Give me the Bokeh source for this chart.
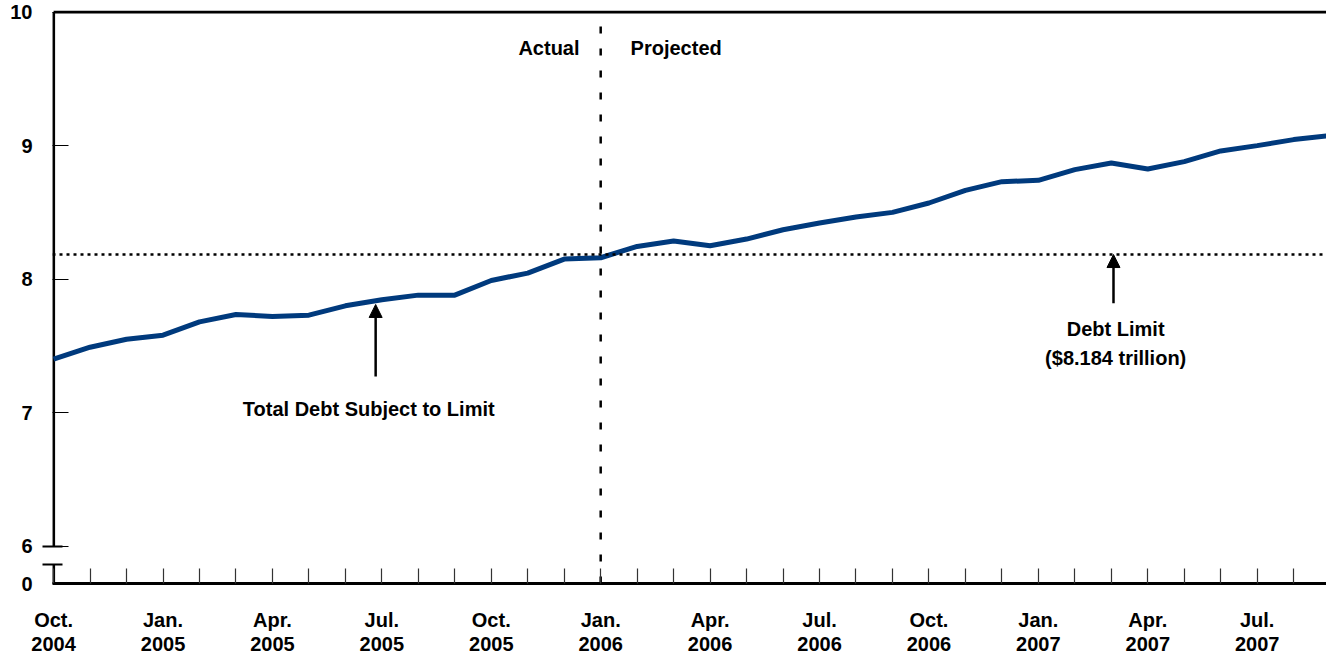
from bokeh.plotting import figure
from bokeh.models import (FixedTicker, Range1d, Span, Arrow, NormalHead, Label)
from bokeh.core.properties import value
from bokeh.embed import file_html
from bokeh.resources import INLINE

# ---- data ----
# monthly total debt subject to limit ($ trillions), Oct 2004 .. Sep 2007
debt = [7.40, 7.49, 7.55, 7.58, 7.68, 7.735, 7.72, 7.73, 7.80, 7.845,
        7.88, 7.88, 7.99, 8.045, 8.15, 8.16, 8.245, 8.285, 8.25, 8.30,
        8.37, 8.42, 8.465, 8.50, 8.57, 8.665, 8.73, 8.74, 8.82, 8.87,
        8.825, 8.88, 8.96, 9.00, 9.045, 9.075]
month_idx = list(range(len(debt)))
quarter_labels = ["Oct.\n2004", "Jan.\n2005", "Apr.\n2005", "Jul.\n2005",
                  "Oct.\n2005", "Jan.\n2006", "Apr.\n2006", "Jul.\n2006",
                  "Oct.\n2006", "Jan.\n2007", "Apr.\n2007", "Jul.\n2007"]
debt_limit = 8.184
projection_start = 15  # Jan. 2006
y_ticks = [6, 7, 8, 9, 10]
y_zero = 5.72       # position of the broken-axis "0"
y_break = 5.865

FONT = "Liberation Sans"
FS = "20px"

p = figure(width=1326, height=657, output_backend="svg", toolbar_location=None,
           x_range=Range1d(-0.03, 34.9), y_range=Range1d(y_zero, 10.012),
           min_border_left=52, min_border_top=10, min_border_right=0,
           min_border_bottom=0)
p.grid.visible = False
p.outline_line_color = None
p.background_fill_color = "white"
p.border_fill_color = "white"

# x axis
xa = p.xaxis[0]
xa.ticker = FixedTicker(ticks=month_idx[:35])
xa.major_label_overrides = {i: (quarter_labels[i // 3] if i % 3 == 0 else "")
                            for i in month_idx[:35]}
xa.major_tick_in = 15
xa.major_tick_out = 0
xa.major_tick_line_color = "#333333"
xa.major_tick_line_width = 1.2
xa.minor_tick_line_color = None
xa.axis_line_width = 3
xa.axis_line_color = "black"
xa.major_label_standoff = 25
xa.major_label_text_line_height = 1.1
xa.major_label_text_font = FONT
xa.major_label_text_font_style = "bold"
xa.major_label_text_font_size = FS
xa.major_label_text_color = "black"

# y axis (broken)
ya = p.yaxis[0]
ya.ticker = FixedTicker(ticks=[y_zero] + y_ticks, minor_ticks=[y_break, 6])
ya.major_label_overrides = {y_zero: "0", 6: "6", 7: "7", 8: "8", 9: "9", 10: "10"}
ya.axis_line_color = None
ya.major_tick_in = 16
ya.major_tick_out = 0
ya.major_tick_line_color = "black"
ya.major_tick_line_width = 1.2
ya.minor_tick_in = 10
ya.minor_tick_out = 10
ya.minor_tick_line_color = "black"
ya.minor_tick_line_width = 2
ya.major_label_standoff = 10
ya.major_label_text_font = FONT
ya.major_label_text_font_style = "bold"
ya.major_label_text_font_size = FS
ya.major_label_text_color = "black"

# axis line pieces and top border
p.segment(x0=[0, 0], y0=[y_zero, 6], x1=[0, 0], y1=[y_break, 10],
          line_color="black", line_width=3)
p.segment(x0=[0], y0=[10], x1=[40], y1=[10], line_color="black", line_width=3)

# reference lines
p.add_layout(Span(location=debt_limit, dimension="width", line_color="black",
                  line_width=2.5, line_dash="3 4"))
p.segment(x0=[projection_start], y0=[y_zero], x1=[projection_start], y1=[10],
          line_color="black", line_width=2.5, line_dash="7 15")

# data line
p.line(month_idx, debt, line_color="#003A7D", line_width=5)

# annotations
def txt(x, y, s, align="center"):
    p.add_layout(Label(x=x, y=y, text=s, text_font=FONT, text_font_style="bold",
                       text_font_size=FS, text_align=align,
                       text_baseline="middle", text_color="black"))

txt(14.42, 9.73, "Actual", "right")
txt(15.82, 9.73, "Projected", "left")
txt(8.64, 7.03, "Total Debt Subject to Limit")
txt(29.12, 7.63, "Debt Limit")
txt(29.12, 7.41, "($8.184 trillion)")

p.add_layout(Arrow(end=NormalHead(size=13, fill_color="black", line_color="black"),
                   x_start=8.83, y_start=7.27, x_end=8.83, y_end=7.81,
                   line_color="black", line_width=2.5))
p.add_layout(Arrow(end=NormalHead(size=13, fill_color="black", line_color="black"),
                   x_start=29.06, y_start=7.82, x_end=29.06, y_end=debt_limit,
                   line_color="black", line_width=2.5))

open("out.html", "w").write(file_html(p, INLINE))
